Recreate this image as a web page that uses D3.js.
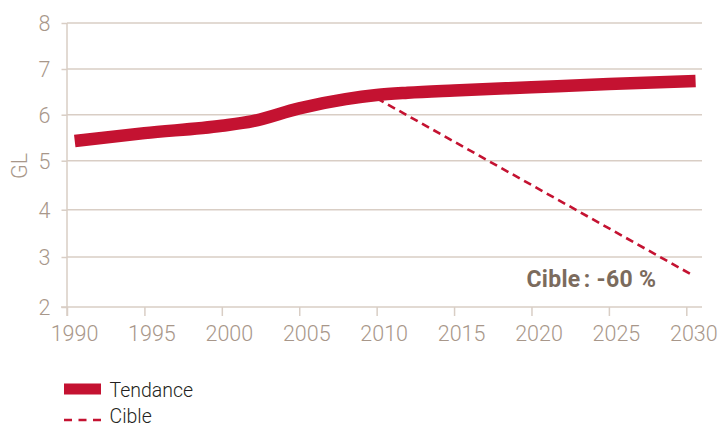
<!DOCTYPE html>
<html><head><meta charset="utf-8">
<script src="https://cdn.jsdelivr.net/npm/d3@7"></script>
<style>
html,body{margin:0;padding:0;background:#fff;}
svg{display:block;}
text{font-family:Roboto,"Liberation Sans",sans-serif;}
</style></head>
<body>
<svg id="c" width="719" height="426"></svg>
<script>
const yTicks = [2,3,4,5,6,7,8];
const xTicks = [1990,1995,2000,2005,2010,2015,2020,2025,2030];
const tendanceYears  = [1990.5,1995,2000,2002,2005,2008,2010,2012,2015,2020,2025,2030.6];
const tendanceValues = [5.43,5.6,5.76,5.86,6.14,6.34,6.43,6.48,6.53,6.6,6.67,6.74];
const cibleYears  = [2010,2030.5];
const cibleValues = [6.36,2.62];
const legendLabels = ["Tendance","Cible"];
const annotation = "Cible\u202F: -60 %";

const RED = "#c41231", GRID = "#d9cec5", LAB = "#a8978a";
const svg = d3.select("#c");
const x = d3.scaleLinear().domain([1990,2030]).range([67,686.3]);
const y = d3.scaleLinear().domain(yTicks).range([307,257,209.7,160.7,114.7,69,23]);
const right = 702;

// gridlines
svg.append("g").selectAll("line").data(yTicks.filter(d=>d>2)).join("line")
  .attr("x1",x(1990)).attr("x2",right).attr("y1",d=>y(d)).attr("y2",d=>y(d))
  .attr("stroke",GRID).attr("stroke-width",1.5);

// y axis
const ya = svg.append("g").attr("transform",`translate(${x(1990)},0)`)
  .call(d3.axisLeft(y).tickValues(yTicks).tickSize(5.5).tickPadding(11).tickFormat(d3.format("d")));
ya.select(".domain").remove();
ya.selectAll(".tick line").attr("stroke",GRID).attr("stroke-width",1.5);
ya.selectAll(".tick text").attr("fill",LAB).attr("font-size",21.5).attr("font-weight",300).attr("dy","0.36em");
svg.append("line").attr("x1",x(1990)).attr("x2",x(1990)).attr("y1",y(8)).attr("y2",316)
  .attr("stroke",GRID).attr("stroke-width",1.5);

// x axis
const xa = svg.append("g").attr("transform",`translate(0,${y(2)})`)
  .call(d3.axisBottom(x).tickValues(xTicks).tickSize(9).tickPadding(10).tickFormat(d3.format("d")));
xa.select(".domain").remove();
xa.selectAll(".tick line").attr("stroke",GRID).attr("stroke-width",1.5);
xa.selectAll(".tick text").attr("fill",LAB).attr("font-size",21.5).attr("font-weight",300)
  .attr("dy","0.72em").attr("dx",7);
svg.append("line").attr("x1",61).attr("x2",right).attr("y1",y(2)).attr("y2",y(2))
  .attr("stroke",GRID).attr("stroke-width",1.5);

// y label
svg.append("text").attr("transform",`translate(26.5,166) rotate(-90)`).attr("text-anchor","middle")
  .attr("fill",LAB).attr("font-size",21.5).attr("font-weight",300).text("GL");

// cible line
const cd = cibleYears.map((d,i)=>[d,cibleValues[i]]);
svg.append("path").datum(cd).attr("d",d3.line().x(d=>x(d[0])).y(d=>y(d[1])))
  .attr("fill","none").attr("stroke",RED).attr("stroke-width",2.6).attr("stroke-dasharray","8,5");

// tendance line
const td = tendanceYears.map((d,i)=>[d,tendanceValues[i]]);
svg.append("path").datum(td).attr("d",d3.line().curve(d3.curveMonotoneX).x(d=>x(d[0])).y(d=>y(d[1])))
  .attr("fill","none").attr("stroke",RED).attr("stroke-width",12.5);

// annotation
svg.append("text").attr("x",526.5).attr("y",287).attr("fill","#7b6b5d").attr("font-size",23)
  .attr("font-weight",700).attr("letter-spacing",0.3)
  .attr("font-family","'Liberation Sans',Arial,sans-serif").text(annotation);

// legend
svg.append("rect").attr("x",64).attr("y",383.5).attr("width",37).attr("height",11).attr("fill",RED);
svg.append("text").attr("x",109.5).attr("y",396.7).attr("fill","#231f20").attr("font-size",19.5)
  .attr("font-weight",300).text(legendLabels[0]);
svg.append("line").attr("x1",64).attr("x2",101).attr("y1",420).attr("y2",420)
  .attr("stroke",RED).attr("stroke-width",2.6).attr("stroke-dasharray","8,6.5");
svg.append("text").attr("x",109.5).attr("y",423).attr("fill","#231f20").attr("font-size",19.5)
  .attr("font-weight",300).text(legendLabels[1]);
</script>
</body></html>
